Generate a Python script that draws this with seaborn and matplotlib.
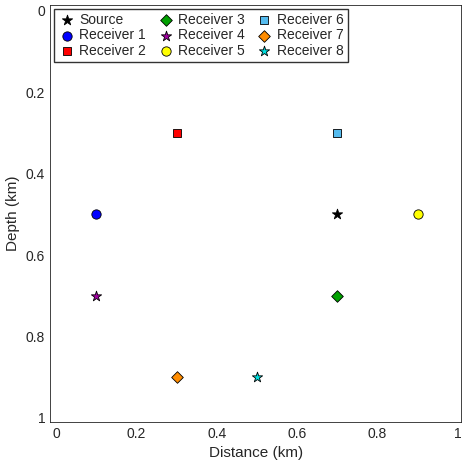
import matplotlib
matplotlib.use("Agg")
import matplotlib.pyplot as plt
import seaborn as sns
import pandas as pd

names = ["Source", "Receiver 1", "Receiver 2", "Receiver 3", "Receiver 4",
         "Receiver 5", "Receiver 6", "Receiver 7", "Receiver 8"]
xs = [0.7, 0.1, 0.3, 0.7, 0.1, 0.9, 0.7, 0.3, 0.5]
depths = [0.5, 0.5, 0.3, 0.7, 0.7, 0.5, 0.3, 0.9, 0.9]
colors = ["black", "#0000ff", "#ff0000", "#00a000", "#a000a0", "#ffff00", "#55bbee", "#ff8c00", "#00e0e0"]
markers = ["*", "o", "s", "D", "*", "o", "s", "D", "*"]
sizes = [60, 45, 30, 35, 60, 45, 30, 35, 60]

df = pd.DataFrame({"name": names, "x": xs, "d": depths})
sns.set_style("white")
plt.rcParams['font.family'] = ['Liberation Sans', 'DejaVu Sans']
fig, ax = plt.subplots(figsize=(4.72, 4.73), dpi=100)
fig.subplots_adjust(left=0.106, right=0.977, top=0.99, bottom=0.108)
for i, n in enumerate(names):
    sub = df[df.name == n]
    sns.scatterplot(data=sub, x="x", y="d", ax=ax, color=colors[i], marker=markers[i],
                    s=sizes[i], edgecolor="black", linewidth=0.6, label=n)
ax.set_xlim(-0.015, 1.008)
ax.set_ylim(1.01, -0.015)
ax.set_xticks([0, 0.2, 0.4, 0.6, 0.8, 1])
ax.set_xticklabels(["0", "0.2", "0.4", "0.6", "0.8", "1"])
ax.set_yticks([0, 0.2, 0.4, 0.6, 0.8, 1])
ax.set_yticklabels(["0", "0.2", "0.4", "0.6", "0.8", "1"])
ax.tick_params(direction="in", length=3, labelsize=10, colors="#262626")
ax.set_xlabel("Distance (km)", fontsize=11)
ax.set_ylabel("Depth (km)", fontsize=11)
for s in ax.spines.values():
    s.set_color("#222222"); s.set_linewidth(0.6)
ax.legend(ncol=3, loc="upper left", fontsize=10, frameon=True, fancybox=False,
          edgecolor="black", handletextpad=0.3, columnspacing=0.8, borderpad=0.3,
          labelspacing=0.1, handlelength=1.2, borderaxespad=0.3)
fig.savefig("out.png", dpi=100)
